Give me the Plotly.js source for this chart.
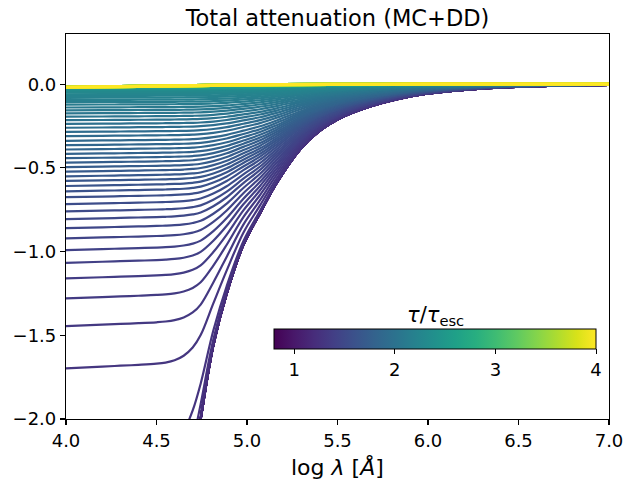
<!DOCTYPE html>
<html>
<head>
<meta charset="utf-8">
<script src="https://cdn.plot.ly/plotly-3.0.1.min.js"></script>
<style>html,body{margin:0;padding:0;background:#fff;}#chart{width:635px;height:491px;}</style>
</head>
<body>
<div id="chart"></div>
<script>
// ---- data ----
// common wavelength grid (log lambda) and the tau -> 0 envelope (log attenuation)
const xGrid = [4.0, 4.2, 4.3, 4.4, 4.5, 4.55, 4.6, 4.65, 4.7, 4.744, 4.814, 4.888, 4.98, 5.072, 5.164, 5.293, 5.394, 5.53, 5.68, 5.83, 5.975, 6.29, 6.66, 7.0];
const envelope = [-17, -9.6, -7.2, -5.4, -4.0, -3.5, -3.05, -2.65, -2.3, -2.0, -1.56, -1.25, -0.96, -0.77, -0.59, -0.39, -0.285, -0.195, -0.133, -0.089, -0.060, -0.026, -0.010, -0.004];

// tau/tau_esc of each plateau curve and its short-wavelength plateau level
const tauF = [0.8, 0.825, 0.85, 0.875, 0.9, 0.925, 0.95, 0.975, 1.0, 1.025, 1.05, 1.075, 1.1, 1.125, 1.15, 1.175, 1.2,
  1.225, 1.25, 1.275,
  1.3, 1.325, 1.35, 1.375, 1.4, 1.425, 1.45, 1.475, 1.5, 1.525, 1.55, 1.575, 1.6, 1.625, 1.65, 1.675, 1.7, 1.725, 1.75, 1.775, 1.8, 1.825, 1.85, 1.875, 1.9,
  1.925, 1.95, 1.975, 2.0, 2.025, 2.05, 2.075, 2.1, 2.125, 2.15, 2.175, 2.2, 2.225, 2.25, 2.275, 2.3, 2.325, 2.35,
  2.375, 2.4, 2.425, 2.45, 2.475, 2.5, 2.525, 2.55, 2.575];
const plateauF = [-50, -50, -50, -50, -50, -50, -50, -50, -50, -50, -50, -50, -50, -50, -50, -50, -50,
  -3.6, -2.7, -2.25,
  -1.697, -1.445, -1.279, -1.160, -1.067, -0.991, -0.921, -0.860, -0.806, -0.760, -0.716, -0.675, -0.640, -0.608, -0.578, -0.550, -0.522, -0.495, -0.468, -0.442, -0.416, -0.390, -0.364, -0.338, -0.310,
  -0.285, -0.260, -0.237, -0.215, -0.194, -0.174, -0.156, -0.139, -0.122, -0.107, -0.094, -0.081, -0.070, -0.060, -0.051, -0.043, -0.036, -0.031,
  -0.028, -0.026, -0.025, -0.024, -0.023, -0.022, -0.021, -0.020, -0.019];
const plateauTilt = 0.03; // relative rise of the plateaus per unit log lambda

// high-tau curves that stay at ~0 (yellow on top)
const tauZ = [2.6, 2.7, 2.8, 2.9, 3.0, 3.1, 3.2, 3.3, 3.4, 3.5, 3.6, 3.7, 3.8, 3.9, 4.0];
const nearZeroX = [4.0, 4.4, 4.9, 5.2, 5.6, 6.0, 7.0];
const nearZeroY = [-0.018, -0.013, -0.006, -0.003, -0.001, 0.0, 0.001];

const tauMin = 0.8, tauMax = 4.0;
const xTicks = [4.0, 4.5, 5.0, 5.5, 6.0, 6.5, 7.0];
const yTicks = [-2.0, -1.5, -1.0, -0.5, 0.0];
const cbTicks = [1, 2, 3, 4];

// ---- colour scale ----
const viridis = [[0,'#440154'],[0.06274509803921569,'#48186a'],[0.12549019607843137,'#472d7b'],[0.18823529411764706,'#424086'],[0.25098039215686274,'#3b528b'],[0.3137254901960784,'#33638d'],[0.3764705882352941,'#2c728e'],[0.4392156862745098,'#26828e'],[0.5019607843137255,'#21918c'],[0.5647058823529412,'#1fa088'],[0.6274509803921569,'#28ae80'],[0.6901960784313725,'#3fbc73'],[0.7529411764705882,'#5ec962'],[0.8156862745098039,'#84d44b'],[0.8784313725490196,'#addc30'],[0.9411764705882353,'#d8e219'],[1,'#fde725']];
function hex(h){return [parseInt(h.slice(1,3),16),parseInt(h.slice(3,5),16),parseInt(h.slice(5,7),16)];}
function cmap(t){
  let f = (t - tauMin) / (tauMax - tauMin);
  f = Math.max(0, Math.min(1, f));
  for (let i = 1; i < viridis.length; i++) {
    if (f <= viridis[i][0]) {
      const a = viridis[i-1], b = viridis[i];
      const u = (f - a[0]) / (b[0] - a[0]);
      const ca = hex(a[1]), cb = hex(b[1]);
      return 'rgb(' + ca.map((v,k)=>Math.round(v + u*(cb[k]-v))).join(',') + ')';
    }
  }
  return viridis[viridis.length-1][1];
}

const traces = [];
tauF.forEach((t, i) => {
  const y = xGrid.map((x, j) => {
    const p = plateauF[i] * (1 - plateauTilt * (x - 4));
    const F = Math.pow(10, p);
    const T = Math.pow(10, envelope[j]);
    return Math.log10(F + (1 - F) * T);
  });
  traces.push({x: xGrid, y: y, type: 'scatter', mode: 'lines',
    line: {color: cmap(t), width: 2.2, shape: 'spline', smoothing: 1},
    hoverinfo: 'skip', showlegend: false});
});
tauZ.forEach((t) => {
  traces.push({x: nearZeroX, y: nearZeroY, type: 'scatter', mode: 'lines',
    line: {color: cmap(t), width: 3.2, shape: 'spline', smoothing: 1},
    hoverinfo: 'skip', showlegend: false});
});
// colorbar carrier
traces.push({x: [4.0], y: [-10], type: 'scatter', mode: 'markers', hoverinfo: 'skip', showlegend: false,
  marker: {color: [tauMin], opacity: 0, colorscale: viridis, cmin: tauMin, cmax: tauMax, showscale: true,
    colorbar: {orientation: 'h', x: 0.6796, xanchor: 'center', len: 0.593, lenmode: 'fraction',
      thickness: 20, thicknessmode: 'pixels', y: 0.2338, yanchor: 'top', ypad: 0, xpad: 0,
      outlinewidth: 1, outlinecolor: '#000', ticks: 'outside', ticklen: 5, tickwidth: 1, tickcolor: '#000',
      tickvals: cbTicks, ticktext: cbTicks.map(String),
      tickfont: {family: 'DejaVu Sans', size: 18, color: '#000'}}}});

const layout = {
  width: 635, height: 491,
  margin: {l: 66, r: 26, t: 34, b: 72, pad: 0},
  paper_bgcolor: '#fff', plot_bgcolor: '#fff',
  showlegend: false,
  font: {family: 'DejaVu Sans', size: 18, color: '#000'},
  title: {text: 'Total attenuation (MC+DD)', font: {family: 'DejaVu Sans', size: 22.5, color: '#000'},
    x: 0.5, xref: 'paper', xanchor: 'center', y: 1 - 18/491, yref: 'container', yanchor: 'middle'},
  xaxis: {range: [4, 7], tickvals: xTicks, ticktext: xTicks.map(v => v.toFixed(1)),
    ticks: 'outside', ticklen: 5, tickwidth: 1.1, tickcolor: '#000',
    showline: true, mirror: true, linecolor: '#000', linewidth: 1.1, showgrid: false, zeroline: false,
    tickfont: {family: 'DejaVu Sans', size: 18, color: '#000'}},
  yaxis: {range: [-2, 0.3], tickvals: yTicks, ticktext: yTicks.map(v => (v < 0 ? '\u2212' : '') + Math.abs(v).toFixed(1)),
    ticks: 'outside', ticklen: 5, tickwidth: 1.1, tickcolor: '#000',
    showline: true, mirror: true, linecolor: '#000', linewidth: 1.1, showgrid: false, zeroline: false,
    tickfont: {family: 'DejaVu Sans', size: 18, color: '#000'}},
  annotations: [
    {text: 'log <i>λ</i> [<i>Å</i>]', xref: 'paper', yref: 'paper', x: 0.5, y: (419 - 467) / 385,
      xanchor: 'center', yanchor: 'middle', showarrow: false, font: {family: 'DejaVu Sans', size: 22, color: '#000'}},
    {text: '<i>τ</i>/<i>τ</i><sub>esc</sub>', xref: 'paper', yref: 'paper', x: 0.6796, y: (419 - 316) / 385,
      xanchor: 'center', yanchor: 'middle', showarrow: false, font: {family: 'DejaVu Sans', size: 21, color: '#000'}}
  ]
};
Plotly.newPlot('chart', traces, layout, {staticPlot: true, displayModeBar: false});
</script>
</body>
</html>
